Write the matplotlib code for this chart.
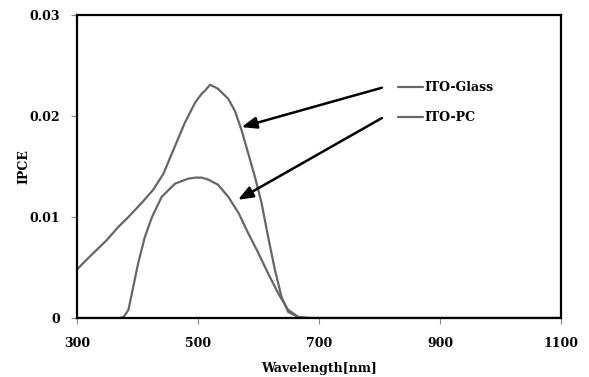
import matplotlib
matplotlib.use("Agg")
import matplotlib.pyplot as plt
from matplotlib.ticker import FixedLocator, FuncFormatter

glass_wl = [300, 313, 330, 349, 368, 385, 407, 426, 443, 459, 478, 495, 506, 513, 520, 533,
            550, 561, 572, 583, 594, 605, 616, 627, 638, 649, 666, 682, 700, 800, 900, 1000, 1100]
glass_ipce = [0.0048, 0.0056, 0.0066, 0.0077, 0.0090, 0.0100, 0.0114, 0.0127, 0.0143, 0.0166, 0.0193,
              0.0213, 0.0222, 0.0226, 0.0231, 0.0227, 0.0217, 0.0205, 0.0186, 0.0163, 0.0140, 0.0114,
              0.0080, 0.0048, 0.0021, 0.0006, 0.0001, 0.0, 0.0, 0.0, 0.0, 0.0, 0.0]

pc_wl = [300, 340, 370, 377, 385, 393, 401, 412, 424, 440, 462, 484, 496, 506, 517, 533,
         550, 567, 583, 600, 616, 633, 649, 666, 682, 700, 800, 900, 1000, 1100]
pc_ipce = [0.0, 0.0, 0.0, 0.0001, 0.0008, 0.0031, 0.0054, 0.0080, 0.0100, 0.0120, 0.0133, 0.0138,
           0.0139, 0.0139, 0.0137, 0.0132, 0.0120, 0.0104, 0.0084, 0.0064, 0.0044, 0.0024, 0.0008,
           0.0001, 0.0, 0.0, 0.0, 0.0, 0.0, 0.0]

x_ticks = [300, 500, 700, 900, 1100]
y_ticks = [0, 0.01, 0.02, 0.03]

plt.rcParams['font.family'] = ['DejaVu Serif']
plt.rcParams['font.weight'] = 'bold'

fig = plt.figure(figsize=(5.89, 3.77), dpi=100)
ax = fig.add_axes([77/589, 1-318/377, (561-77)/589, (318-15)/377])

color = '#666666'
l1, = ax.plot(glass_wl, glass_ipce, color=color, lw=1.6, label='ITO-Glass',
              solid_joinstyle='round', solid_capstyle='round')
l2, = ax.plot(pc_wl, pc_ipce, color=color, lw=1.6, label='ITO-PC',
              solid_joinstyle='round', solid_capstyle='round')

ax.set_xlim(300, 1100)
ax.set_ylim(0, 0.03)
ax.xaxis.set_major_locator(FixedLocator(x_ticks))
ax.yaxis.set_major_locator(FixedLocator(y_ticks))
ax.yaxis.set_major_formatter(FuncFormatter(lambda v, p: '0' if v == 0 else f'{v:.2f}'))
ax.tick_params(direction='out', length=4, width=0.8, color='#888888', labelsize=9)
ax.tick_params(axis='x', pad=10)
ax.tick_params(axis='y', pad=8)
for s in ax.spines.values():
    s.set_linewidth(1.6)
    s.set_color('black')

ax.set_xlabel('Wavelength[nm]', fontsize=9, fontweight='bold', labelpad=8)
ax.set_ylabel('IPCE', fontsize=9, fontweight='bold')
ax.yaxis.set_label_coords(-0.097, 0.5)

arrow = dict(arrowstyle='-|>,head_length=0.9,head_width=0.35', color='black', lw=1.8, shrinkA=0, shrinkB=0)
ax.annotate('', xy=(572, 0.0189), xytext=(804, 0.0228), arrowprops=arrow)
ax.annotate('', xy=(566, 0.0117), xytext=(804, 0.0198), arrowprops=arrow)

leg = ax.legend(handles=[l1, l2], loc='upper left', bbox_to_anchor=(398/589, 1-81/377),
                bbox_transform=fig.transFigure, frameon=False, handlelength=2.0,
                handletextpad=0.1, borderpad=0, borderaxespad=0, labelspacing=1.35,
                prop={'size': 9, 'weight': 'bold'})

fig.savefig('out.png', dpi=100)
